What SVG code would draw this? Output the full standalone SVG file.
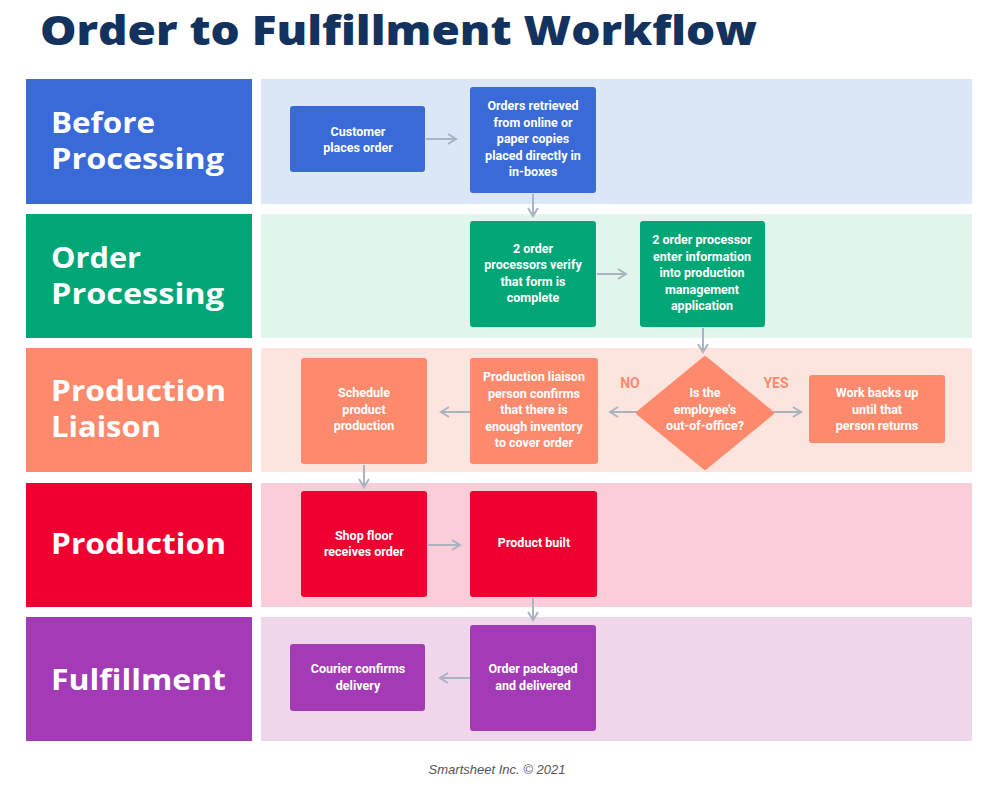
<svg xmlns="http://www.w3.org/2000/svg" width="990" height="786" viewBox="0 0 990 786">
<style>
.title{font-family:"Open Sans",Lato,sans-serif;font-weight:800;font-size:40px;fill:#14325e}
.hd{font-family:"Open Sans",Lato,sans-serif;font-weight:700;font-size:29px;fill:#fff}
.t{font-family:Roboto,"Liberation Sans",sans-serif;font-weight:700;font-size:12.5px;fill:#fff;text-anchor:middle}
.lbl{font-family:Roboto,"Liberation Sans",sans-serif;font-weight:700;font-size:14px;fill:#fe8a6e;text-anchor:middle}
.c{stroke:#aab4c0;stroke-width:2;fill:none}
.foot{font-family:"Liberation Sans",sans-serif;font-style:italic;font-size:13px;fill:#555;text-anchor:middle}
</style>
<defs><marker id="a" viewBox="0 0 12 12" refX="10" refY="6" markerWidth="12" markerHeight="12" markerUnits="userSpaceOnUse" orient="auto"><path d="M2 1 L10 6 L2 11" fill="none" stroke="#aab4c0" stroke-width="2"/></marker></defs>
<rect width="990" height="786" fill="#fff"/>
<text class="title" x="40" y="45" textLength="717" lengthAdjust="spacingAndGlyphs">Order to Fulfillment Workflow</text>
<g id="lanes">
<rect x="26" y="79" width="226" height="125" fill="#3a6ad8"/><rect x="261" y="79" width="711" height="125" fill="#dbe6f7"/>
<rect x="26" y="214" width="226" height="124" fill="#00a676"/><rect x="261" y="214" width="711" height="124" fill="#e2f5ec"/>
<rect x="26" y="348" width="226" height="124" fill="#fe8a6e"/><rect x="261" y="348" width="711" height="124" fill="#fde4df"/>
<rect x="26" y="483" width="226" height="124" fill="#ee0030"/><rect x="261" y="483" width="711" height="124" fill="#fbcdd8"/>
<rect x="26" y="617" width="226" height="124" fill="#a23bb5"/><rect x="261" y="617" width="711" height="124" fill="#efd6ea"/>
<text class="hd" x="51" y="133" textLength="104" lengthAdjust="spacingAndGlyphs">Before</text><text class="hd" x="51" y="169" textLength="173" lengthAdjust="spacingAndGlyphs">Processing</text>
<text class="hd" x="51" y="268" textLength="90" lengthAdjust="spacingAndGlyphs">Order</text><text class="hd" x="51" y="304" textLength="173" lengthAdjust="spacingAndGlyphs">Processing</text>
<text class="hd" x="51" y="401" textLength="175" lengthAdjust="spacingAndGlyphs">Production</text><text class="hd" x="51" y="437" textLength="110" lengthAdjust="spacingAndGlyphs">Liaison</text>
<text class="hd" x="51" y="554" textLength="175" lengthAdjust="spacingAndGlyphs">Production</text>
<text class="hd" x="51" y="690" textLength="175" lengthAdjust="spacingAndGlyphs">Fulfillment</text>
</g>
<g id="connectors">
<path class="c" d="M426 139 H456" marker-end="url(#a)"/>
<path class="c" d="M533 194 V216" marker-end="url(#a)"/>
<path class="c" d="M597 274 H626" marker-end="url(#a)"/>
<path class="c" d="M703 328 V352" marker-end="url(#a)"/>
<path class="c" d="M773 412 H801" marker-end="url(#a)"/>
<path class="c" d="M638 412 H610" marker-end="url(#a)"/>
<path class="c" d="M470 412 H441" marker-end="url(#a)"/>
<path class="c" d="M364 465 V487" marker-end="url(#a)"/>
<path class="c" d="M428 545 H460" marker-end="url(#a)"/>
<path class="c" d="M533 598 V620" marker-end="url(#a)"/>
<path class="c" d="M470 678 H440" marker-end="url(#a)"/>
<text class="lbl" x="630" y="388">NO</text><text class="lbl" x="776" y="388">YES</text>
</g>
<g id="n1"><rect x="290" y="106" width="135" height="66" rx="3" fill="#3a6ad8"/><text class="t" x="358" y="136">Customer</text><text class="t" x="358" y="152">places order</text></g>
<g id="n2"><rect x="470" y="87" width="126" height="106" rx="3" fill="#3a6ad8"/><text class="t" x="533" y="110">Orders retrieved</text><text class="t" x="533" y="127">from online or</text><text class="t" x="533" y="143">paper copies</text><text class="t" x="533" y="160">placed directly in</text><text class="t" x="533" y="176">in-boxes</text></g>
<g id="n3"><rect x="470" y="221" width="126" height="106" rx="3" fill="#00a676"/><text class="t" x="533" y="253">2 order</text><text class="t" x="533" y="269">processors verify</text><text class="t" x="533" y="286">that form is</text><text class="t" x="533" y="302">complete</text></g>
<g id="n4"><rect x="640" y="221" width="125" height="106" rx="3" fill="#00a676"/><text class="t" x="702" y="244">2 order processor</text><text class="t" x="702" y="261">enter information</text><text class="t" x="702" y="277">into production</text><text class="t" x="702" y="294">management</text><text class="t" x="702" y="310">application</text></g>
<g id="n5"><path d="M705 358 L772 413 L705 468 L638 413 Z" fill="#fe8a6e" stroke="#fe8a6e" stroke-width="4" stroke-linejoin="round"/><text class="t" x="705" y="397">Is the</text><text class="t" x="705" y="414">employee's</text><text class="t" x="705" y="430">out-of-office?</text></g>
<g id="n6"><rect x="809" y="375" width="136" height="68" rx="3" fill="#fe8a6e"/><text class="t" x="877" y="397">Work backs up</text><text class="t" x="877" y="414">until that</text><text class="t" x="877" y="430">person returns</text></g>
<g id="n7"><rect x="470" y="358" width="128" height="106" rx="3" fill="#fe8a6e"/><text class="t" x="534" y="381">Production liaison</text><text class="t" x="534" y="398">person confirms</text><text class="t" x="534" y="414">that there is</text><text class="t" x="534" y="431">enough inventory</text><text class="t" x="534" y="447">to cover order</text></g>
<g id="n8"><rect x="301" y="358" width="126" height="106" rx="3" fill="#fe8a6e"/><text class="t" x="364" y="397">Schedule</text><text class="t" x="364" y="414">product</text><text class="t" x="364" y="430">production</text></g>
<g id="n9"><rect x="301" y="491" width="126" height="106" rx="3" fill="#ee0030"/><text class="t" x="364" y="540">Shop floor</text><text class="t" x="364" y="556">receives order</text></g>
<g id="n10"><rect x="470" y="491" width="127" height="106" rx="3" fill="#ee0030"/><text class="t" x="534" y="547">Product built</text></g>
<g id="n11"><rect x="470" y="625" width="126" height="106" rx="3" fill="#a23bb5"/><text class="t" x="533" y="673">Order packaged</text><text class="t" x="533" y="690">and delivered</text></g>
<g id="n12"><rect x="290" y="644" width="135" height="67" rx="3" fill="#a23bb5"/><text class="t" x="358" y="673">Courier confirms</text><text class="t" x="358" y="690">delivery</text></g>
<text class="foot" x="497" y="774">Smartsheet Inc. © 2021</text>
</svg>
